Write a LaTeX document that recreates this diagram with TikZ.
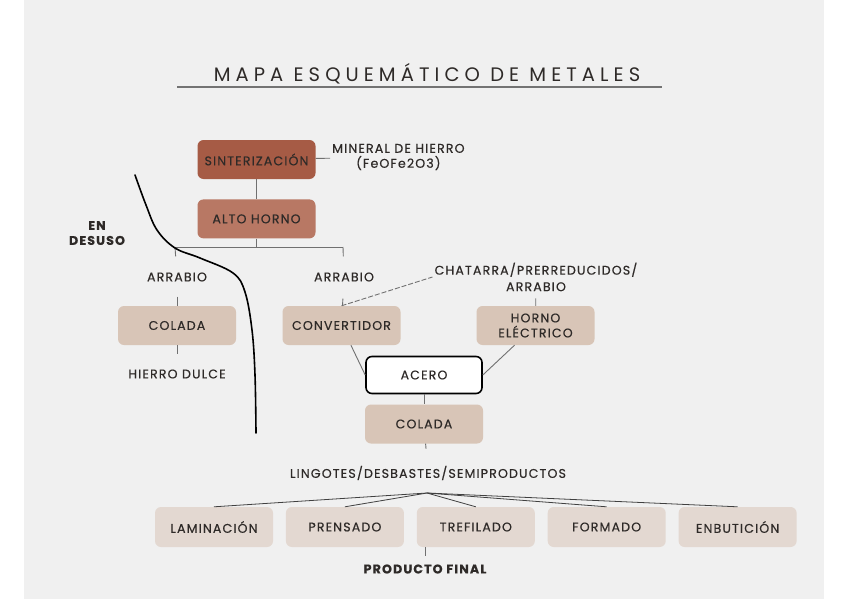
\documentclass[tikz,border=0pt]{standalone}
\usepackage{fontspec}
\setmainfont{Poppins}
\newfontfamily\labelfont{Poppins}[LetterSpace=9, FakeBold=0.4]
\newfontfamily\titlefont{Poppins}[LetterSpace=26]
\usetikzlibrary{positioning}

\definecolor{panel}{HTML}{F0F0F0}
\definecolor{ink}{HTML}{2E2A28}
\definecolor{rust}{HTML}{A65B45}
\definecolor{clay}{HTML}{B87864}
\definecolor{tan}{HTML}{D8C5B7}
\definecolor{sand}{HTML}{E3D8D1}
\definecolor{wire}{HTML}{707070}

\begin{document}
\begin{tikzpicture}%
  [x=1pt, y=-1pt,
   node distance=12.5pt,
   every node/.style={text=ink, inner sep=2pt,
                      font=\labelfont\fontsize{12.6}{15}\selectfont},
   box/.style={rounded corners=6pt, minimum width=118pt, minimum height=39pt,
               inner sep=0pt, align=center},
   dark/.style={box, fill=rust},
   mid/.style={box, fill=clay},
   soft/.style={box, fill=tan},
   pale/.style={box, fill=sand, minimum height=40pt},
   steel/.style={box, fill=white, draw=black, line width=1.6pt,
                 minimum width=116pt, minimum height=37pt},
   tag/.style={align=center},
   strong/.style={font=\labelfont\bfseries\fontsize{12.6}{15}\selectfont,
                  align=center},
   conn/.style={draw=wire, line width=0.9pt},
   fan/.style={draw=black!75, line width=0.8pt}
  ]
\useasboundingbox (0,0) rectangle (848,599);
\fill[white] (0,0) rectangle (848,599);
\fill[panel] (24,0) rectangle (824,599);

% title
\node (title) at (427,74)
  {\titlefont\fontsize{19.5}{22}\selectfont MAPA ESQUEMÁTICO DE METALES};
\coordinate (ruleL) at (177,87);
\coordinate (ruleR) at (662,87);
\draw[black!55, line width=1.2pt] (ruleL) -- (ruleR);

% upper chain
\node[dark] (sint)                    at (256.5,159.5) {SINTERIZACIÓN};
\node[mid]  (alto)  [below=20pt of sint]               {ALTO HORNO};
\node[tag, anchor=west] (mineral)     at (330,157)
  {MINERAL DE HIERRO\\(FeOFe2O3)};
\coordinate (split)  at (256.5,247);
\coordinate (splitL) at (175,247);
\coordinate (splitR) at (343,247);

% en desuso branch
\node[strong] (desuso) at (97,233) {EN\\DESUSO};
\node[tag]  (arrL)   at (177,277)   {ARRABIO};
\node[soft] (colL)   at (177,325.5) {COLADA};
\node[tag]  (hierro) at (177,374)   {HIERRO DULCE};

% acero branch
\node[tag]  (arrR)  at (344,277)     {ARRABIO};
\node[soft] (conv)  at (341.5,325.5) {CONVERTIDOR};
\node[tag, font=\labelfont\fontsize{12.6}{16.5}\selectfont] (chatarra)
  at (536,277) {CHATARRA/PRERREDUCIDOS/\\ARRABIO};
\node[soft] (horno) at (535.5,325.5) {HORNO\\ELÉCTRICO};
\node[steel] (acero) at (424,375)    {ACERO};
\node[soft] (colC)  [below=10pt of acero] {COLADA};
\node[tag]  (lingotes) at (428,473)  {LINGOTES/DESBASTES/SEMIPRODUCTOS};
\coordinate (apex) at (427,493);

% final row
\node[pale] (lam)   at (214,527)    {LAMINACIÓN};
\node[pale] (pren)  [right=of lam]  {PRENSADO};
\node[pale] (tref)  [right=of pren] {TREFILADO};
\node[pale] (form)  [right=of tref] {FORMADO};
\node[pale] (enbu)  [right=of form] {ENBUTICIÓN};
\node[strong] (prod) at (425,569)   {PRODUCTO FINAL};

\path[conn]
%   FROM        STYLE                          TO
   (sint)     edge                            (alto)
   (sint)     edge                            (mineral)
   (alto)     edge                            (split)
   (splitL)   edge                            (splitR)
   (splitL)   edge[shorten >=14pt]            (arrL)
   (arrL)     edge[shorten <=13pt]            (colL)
   (colL)     edge[shorten >=13pt]            (hierro)
   (splitR)   edge[shorten >=14pt]            (arrR)
   (arrR)     edge[shorten <=15pt]            (conv)
   (conv.north) edge[dashed, dash pattern=on 5pt off 2pt] (chatarra.west)
   (chatarra) edge[shorten <=5pt]             (horno)
   (conv)     edge                            (acero.west)
   (horno)    edge                            (acero.east)
   (acero)    edge                            (colC)
   (colC)     edge[shorten >=15pt]            (lingotes)
   (tref.south -| prod.north) edge[shorten >=6pt] (prod)
   ;

\path[fan]
   (apex) edge (lam.north)
   (apex) edge (pren.north)
   (apex) edge (tref.north)
   (apex) edge (form.north)
   (apex) edge (enbu.north)
   ;

% dividing stroke
\draw[line width=1.6pt, line cap=round]
  plot[smooth, tension=0.6] coordinates
  {(135,175) (146,205) (157,230) (175,248) (200,258) (233,273)
   (245,292) (252,330) (255,375) (256,433)};
\end{tikzpicture}
\end{document}
